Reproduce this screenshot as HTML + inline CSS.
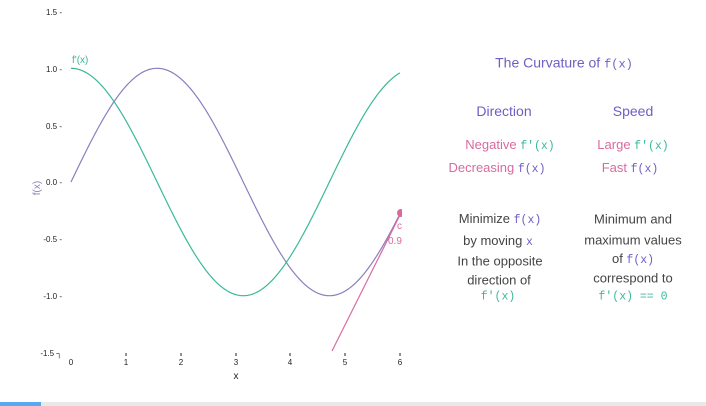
<!DOCTYPE html>
<html><head><meta charset="utf-8"><style>
body{margin:0;width:706px;height:406px;background:#fff;overflow:hidden;position:relative;font-family:"Liberation Sans",sans-serif}
.t{position:absolute;white-space:nowrap;transform:translate(-50%,-50%);font-size:13px}
.m{font-family:"Liberation Mono",monospace;font-size:11.5px}
.p{color:#6c5fc4}.k{color:#d96aa0}.g{color:#3bb89a}.d{color:#444}
</style></head><body>
<svg width="706" height="406" style="position:absolute;left:0;top:0">
<g font-size="8" fill="#222" text-anchor="end">
<text x="62" y="15">1.5 -</text><text x="62" y="72">1.0 -</text><text x="62" y="129">0.5 -</text>
<text x="62" y="185">0.0 -</text><text x="62" y="242">-0.5 -</text><text x="62" y="299">-1.0 -</text><text x="62" y="356">-1.5 ┐</text>
</g>
<g font-size="8" fill="#222" text-anchor="middle">
<text x="71" y="365">0</text><text x="126" y="365">1</text><text x="181" y="365">2</text><text x="236" y="365">3</text><text x="290" y="365">4</text><text x="345" y="365">5</text><text x="400" y="365">6</text>
<text x="236" y="379" font-size="10">x</text>
</g>
<g stroke="#222" stroke-width="1">
<line x1="126" y1="353" x2="126" y2="356"/><line x1="181" y1="353" x2="181" y2="356"/><line x1="236" y1="353" x2="236" y2="356"/><line x1="290" y1="353" x2="290" y2="356"/><line x1="345" y1="353" x2="345" y2="356"/><line x1="400" y1="353" x2="400" y2="356"/>
</g>
<text x="40" y="188" font-size="10" fill="#8a7fbf" transform="rotate(-90 40 188)" text-anchor="middle">f(x)</text>
<text x="72" y="63" font-size="10" fill="#3bb89a">f'(x)</text>
<path id="s" fill="none" stroke="#8a7fbf" stroke-width="1.2"/>
<path id="c" fill="none" stroke="#3bb89a" stroke-width="1.2"/>
<defs><clipPath id="cl"><rect x="0" y="0" width="402" height="406"/></clipPath></defs>
<g clip-path="url(#cl)">
<line x1="332" y1="351" x2="401" y2="213" stroke="#d96aa0" stroke-width="1.2"/>
<circle cx="401" cy="213" r="4" fill="#d96aa0"/>
<text x="397" y="229" font-size="10" fill="#d96aa0">c</text>
<text x="388" y="244" font-size="10" fill="#d96aa0">0.9</text>
</g>
<rect x="0" y="402" width="706" height="4" fill="#e8e8e8"/>
<rect x="0" y="402" width="41" height="4" fill="#5aa9f0"/>
</svg>
<script>
function P(f){var d="";for(var i=0;i<=240;i++){var x=i*6/240;d+=(i?"L":"M")+(71+x*54.83).toFixed(2)+","+(182-f(x)*113.7).toFixed(2);}return d;}
document.getElementById("s").setAttribute("d",P(Math.sin));
document.getElementById("c").setAttribute("d",P(Math.cos));
</script>
<div class="t p" style="left:564px;top:63px;font-size:14px">The Curvature of <span class="m" style="font-size:12px">f(x)</span></div>
<div class="t p" style="left:504px;top:111px;font-size:14px">Direction</div>
<div class="t p" style="left:633px;top:111px;font-size:14px">Speed</div>
<div class="t k" style="left:510px;top:145px">Negative <span class="m g">f'(x)</span></div>
<div class="t k" style="left:497px;top:168px">Decreasing <span class="m p">f(x)</span></div>
<div class="t k" style="left:633px;top:145px">Large <span class="m g">f'(x)</span></div>
<div class="t k" style="left:630px;top:168px">Fast <span class="m p">f(x)</span></div>
<div class="t d" style="left:500px;top:219px">Minimize <span class="m p">f(x)</span></div>
<div class="t d" style="left:498px;top:241px">by moving <span class="m p">x</span></div>
<div class="t d" style="left:500px;top:261px">In the opposite</div>
<div class="t d" style="left:499px;top:280px">direction of</div>
<div class="t m g" style="left:498px;top:297px">f'(x)</div>
<div class="t d" style="left:633px;top:219px">Minimum and</div>
<div class="t d" style="left:633px;top:240px">maximum values</div>
<div class="t d" style="left:633px;top:259px">of <span class="m p">f(x)</span></div>
<div class="t d" style="left:633px;top:278px">correspond to</div>
<div class="t m g" style="left:633px;top:297px">f'(x) == 0</div>
</body></html>
